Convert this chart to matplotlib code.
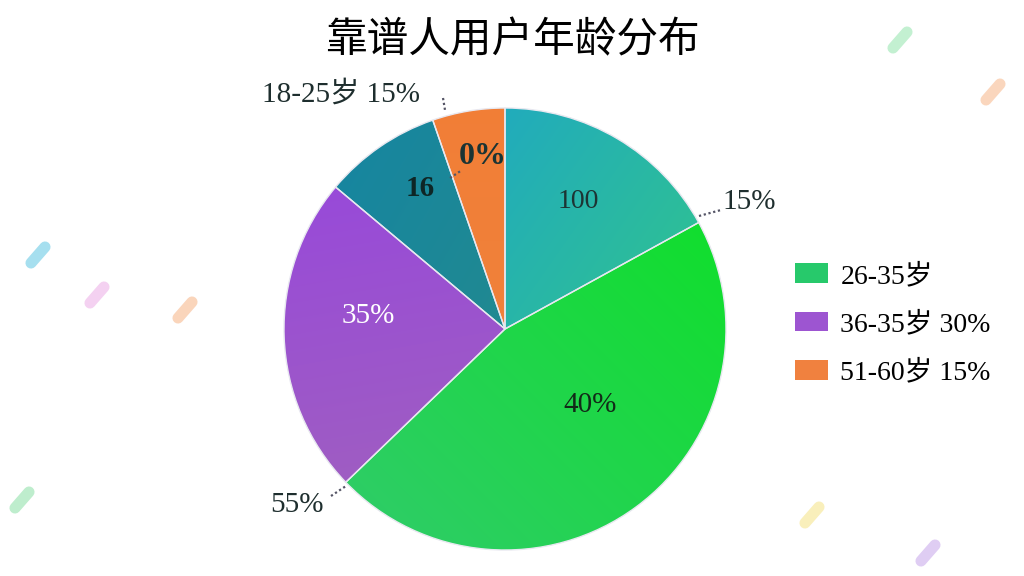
import numpy as np
import matplotlib.pyplot as plt
from matplotlib.colors import to_rgb
from matplotlib.patches import Patch

# slice data, clockwise from 12 o'clock (shares)
slice_names = ['26-35岁a', '26-35岁', '36-35岁', '18-25岁', '51-60岁']
slice_values = [17.0, 45.8, 23.3, 8.6, 5.3]
inner_labels = ['100', '40%', '35%', '16', '0%']
# two colours per slice for the soft gradient fill, and its direction (deg)
grad_a = ['#1aa0d2', '#0ee028', '#9644e0', '#1585a2', '#f27e36']
grad_b = ['#36cc7e', '#30cc6a', '#a266b8', '#2c8e80', '#ee843f']
grad_dir = [-35, 225, -80, -30, -90]

legend_labels = ['26-35岁', '36-35岁 30%', '51-60岁 15%']
legend_colors = ['#27c96b', '#9d55d1', '#f0813f']

outer_labels = ['18-25岁 15%', '15%', '55%']

title = '靠谱人用户年龄分布'

plt.rcParams['font.family'] = ['Liberation Serif', 'Noto Sans CJK SC', 'DejaVu Sans']

W, H = 1024, 576
fig = plt.figure(figsize=(W / 100, H / 100), dpi=100)
ax = fig.add_axes([0, 0, 1, 1])

# faint confetti in the background
confetti = [(38, 255, '#3ab8dc'), (97, 295, '#e79ae0'), (185, 310, '#f4a26a'),
            (900, 40, '#7adf9a'), (993, 92, '#f6a66e'), (22, 500, '#6fd890'),
            (812, 515, '#f2dc6a'), (928, 553, '#b990e6')]
for x, y, c in confetti:
    ax.plot([x - 7, x + 7], [H - y - 8, H - y + 8], color=c, lw=8,
            solid_capstyle='round', alpha=0.45, zorder=0)

cx, cy, r = 505, H - 329, 221
wedges, _ = ax.pie(slice_values, startangle=90, counterclock=False,
                   center=(cx, cy), radius=r, frame=True,
                   wedgeprops=dict(edgecolor='#e8e8f0', linewidth=1.0))
ax.set_xlim(0, W)
ax.set_ylim(0, H)
ax.set_aspect('equal')
ax.axis('off')

yy, xx = np.mgrid[1:-1:200j, -1:1:200j]
for w, ca, cb, ang in zip(wedges, grad_a, grad_b, grad_dir):
    d = np.array([np.cos(np.radians(ang)), np.sin(np.radians(ang))])
    t = (xx * d[0] + yy * d[1] + 1.2) / 2.4
    t = np.clip(t, 0, 1)[..., None]
    img = (1 - t) * np.array(to_rgb(ca)) + t * np.array(to_rgb(cb))
    im = ax.imshow(img, extent=[cx - r, cx + r, cy - r, cy + r],
                   zorder=1.5, interpolation='bilinear')
    im.set_clip_path(w)
    w.set_facecolor('none')
    w.set_zorder(2)

# labels in the slices
inner_pos = [(578, 202), (590, 405), (368, 316), (420, 188), (483, 156)]
inner_col = ['#1d3434', '#122a18', 'white', '#0e2626', '#1a3434']
inner_size = [20, 21, 21, 21, 23]
for (x, y), s, c, fs in zip(inner_pos, inner_labels, inner_col, inner_size):
    ax.text(x, H - y, s, ha='center', va='center', fontsize=fs, color=c,
            fontweight='bold' if s in ('16', '0%') else 'normal', zorder=3)

# outer labels with little dotted leaders
outer_pos = [(341, 94), (749, 202), (297, 505)]
for (x, y), s in zip(outer_pos, outer_labels):
    ax.text(x, H - y, s, ha='center', va='center', fontsize=21,
            color='#1e2e2e', zorder=3)
leaders = [((699, 216), (721, 210)), ((331, 496), (346, 486)),
           ((443, 98), (445, 110)), ((450, 178), (462, 170))]
for (x0, y0), (x1, y1) in leaders:
    ax.plot([x0, x1], [H - y0, H - y1], color='#556', lw=1.6, ls=(0, (1, 1.2)),
            zorder=3)

handles = [Patch(facecolor=c, edgecolor='none') for c in legend_colors]
ax.legend(handles, legend_labels, loc='upper left', bbox_to_anchor=(0.776, 0.543),
          frameon=False, fontsize=20, handlelength=1.2, handleheight=0.72,
          labelspacing=0.81, handletextpad=0.45, borderpad=0, borderaxespad=0)

fig.text(0.5, 1 - 41 / H, title, ha='center', va='center', fontsize=30,
         family=['Noto Sans CJK SC'], color='black')

fig.savefig('out.png', dpi=100, facecolor='white')
